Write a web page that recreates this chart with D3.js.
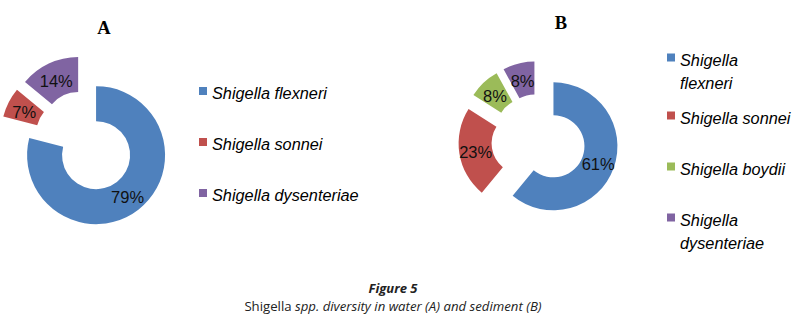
<!DOCTYPE html>
<html>
<head>
<meta charset="utf-8">
<script src="https://cdn.jsdelivr.net/npm/d3@7"></script>
<style>
  html, body { margin: 0; padding: 0; background: #fff; }
  svg { display: block; }
</style>
</head>
<body>
<svg id="chart" width="793" height="320"></svg>
<script>
// data
const speciesA = ["Shigella flexneri", "Shigella sonnei", "Shigella dysenteriae"];
const valuesA = [79, 7, 14];
const speciesB = ["Shigella flexneri", "Shigella sonnei", "Shigella boydii", "Shigella dysenteriae"];
const valuesB = [61, 23, 8, 8];

const colors = {
  "Shigella flexneri": "#4F81BD",
  "Shigella sonnei": "#C0504D",
  "Shigella boydii": "#9BBB59",
  "Shigella dysenteriae": "#8064A2"
};

const svg = d3.select("#chart");

// doughnut + legend
function drawDonut(opt) {
  const g = svg.append("g").attr("transform", `translate(${opt.cx},${opt.cy})`);
  const data = opt.names.map((n, i) => ({ name: n, value: opt.values[i] }));

  const pie = d3.pie().value(d => d.value).sort(null).startAngle(0).endAngle(2 * Math.PI);
  const arc = d3.arc().innerRadius(opt.inner).outerRadius(opt.outer);
  const explode = opt.outer * 0.25;

  const slices = g.selectAll(".slice")
    .data(pie(data))
    .enter()
    .append("g")
    .attr("class", "slice")
    .attr("transform", d => {
      const a = (d.startAngle + d.endAngle) / 2;
      return `translate(${explode * Math.sin(a)},${-explode * Math.cos(a)})`;
    });

  slices.append("path")
    .attr("d", arc)
    .attr("fill", d => colors[d.data.name]);

  slices.append("text")
    .attr("transform", d => `translate(${arc.centroid(d)})`)
    .attr("text-anchor", "middle")
    .attr("dy", "0.45em")
    .style("font-family", "'Liberation Sans', Arial, sans-serif")
    .style("font-size", "16.5px")
    .attr("fill", "#111")
    .text(d => d.data.value + "%");

  // title
  svg.append("text")
    .attr("x", opt.titleX)
    .attr("y", opt.titleY)
    .attr("text-anchor", "middle")
    .style("font-family", "'Liberation Serif', 'Times New Roman', serif")
    .style("font-weight", "bold")
    .style("font-size", "18.5px")
    .text(opt.title);

  // legend
  const lg = svg.append("g").attr("transform", `translate(${opt.legX},${opt.legY})`);
  let y = 0;
  opt.names.forEach(name => {
    const item = lg.append("g").attr("transform", `translate(0,${y})`);
    item.append("rect")
      .attr("x", 0).attr("y", 0)
      .attr("width", 8).attr("height", 8)
      .attr("fill", colors[name]);
    const t = item.append("text")
      .attr("x", 13)
      .attr("y", 12)
      .style("font-family", "'Liberation Sans', Arial, sans-serif")
      .style("font-style", "italic")
      .style("font-size", "16.3px")
      .attr("fill", "#000");
    // wrap words into lines that fit
    const words = name.split(" ");
    let line = [];
    let lines = 0;
    let ts = t.append("tspan").attr("x", 13).attr("dy", 0);
    words.forEach(w => {
      line.push(w);
      ts.text(line.join(" "));
      if (ts.node().getComputedTextLength() > opt.legWidth && line.length > 1) {
        line.pop();
        ts.text(line.join(" "));
        line = [w];
        lines++;
        ts = t.append("tspan").attr("x", 13).attr("dy", 23).text(w);
      }
    });
    y += opt.legStep + lines * 7;
  });
}

drawDonut({
  names: speciesA, values: valuesA, title: "A",
  cx: 85.5, cy: 141.5, outer: 69, inner: 34,
  titleX: 104, titleY: 34,
  legX: 199, legY: 87, legStep: 51, legWidth: 400
});

drawDonut({
  names: speciesB, values: valuesB, title: "B",
  cx: 538.4, cy: 140.9, outer: 64, inner: 31,
  titleX: 561, titleY: 28.5,
  legX: 667, legY: 53.5, legStep: 51, legWidth: 113
});

// caption
svg.append("text")
  .attr("x", 393)
  .attr("y", 292.8)
  .attr("text-anchor", "middle")
  .style("font-family", "'Open Sans', 'Noto Sans', sans-serif")
  .style("font-weight", "bold")
  .style("font-style", "italic")
  .style("font-size", "13px")
  .attr("fill", "#222")
  .text("Figure 5");

const cap = svg.append("text")
  .attr("x", 393)
  .attr("y", 311)
  .attr("text-anchor", "middle")
  .style("font-family", "'Open Sans', 'Noto Sans', sans-serif")
  .style("font-size", "13.2px")
  .attr("fill", "#222");
cap.append("tspan").text("Shigella ");
cap.append("tspan").style("font-style", "italic").text("spp. diversity in water (A) and sediment (B)");
</script>
</body>
</html>
